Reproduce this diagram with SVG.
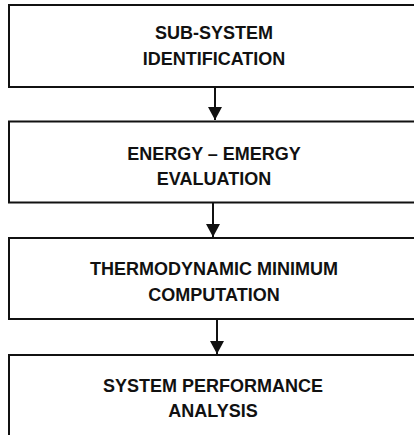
<svg xmlns="http://www.w3.org/2000/svg" width="414" height="435" viewBox="0 0 414 435">
  <style>
    .box { fill: #ffffff; stroke: #111111; stroke-width: 2; }
    .label { font-family: "Liberation Sans", Arial, sans-serif; font-size: 18px; font-weight: bold; fill: #111111; text-anchor: middle; }
    .link { stroke: #111111; stroke-width: 2; fill: none; }
  </style>
  <defs>
    <marker id="arrow" markerUnits="userSpaceOnUse" markerWidth="14" markerHeight="14" refX="13" refY="7" orient="auto">
      <path d="M0,0 L13,7 L0,14 Z" fill="#111111"/>
    </marker>
  </defs>
  <rect width="414" height="435" fill="#ffffff"/>

  <g id="node-subsystem">
    <rect class="box" x="9" y="5" width="420" height="82"/>
    <text class="label" x="214" y="39">SUB-SYSTEM</text>
    <text class="label" x="214" y="65">IDENTIFICATION</text>
  </g>

  <g id="node-energy">
    <rect class="box" x="9" y="121.5" width="420" height="81"/>
    <text class="label" x="214" y="160">ENERGY – EMERGY</text>
    <text class="label" x="214" y="185">EVALUATION</text>
  </g>

  <g id="node-thermo">
    <rect class="box" x="9" y="238" width="420" height="81"/>
    <text class="label" x="214" y="275">THERMODYNAMIC MINIMUM</text>
    <text class="label" x="214" y="300.5">COMPUTATION</text>
  </g>

  <g id="node-performance">
    <rect class="box" x="9" y="355" width="420" height="100"/>
    <text class="label" x="213" y="392">SYSTEM PERFORMANCE</text>
    <text class="label" x="213" y="417">ANALYSIS</text>
  </g>

  <g id="connectors">
    <line class="link" x1="215" y1="87" x2="215" y2="120" marker-end="url(#arrow)"/>
    <line class="link" x1="213" y1="202.5" x2="213" y2="237" marker-end="url(#arrow)"/>
    <line class="link" x1="217" y1="319" x2="217" y2="354" marker-end="url(#arrow)"/>
  </g>
</svg>
